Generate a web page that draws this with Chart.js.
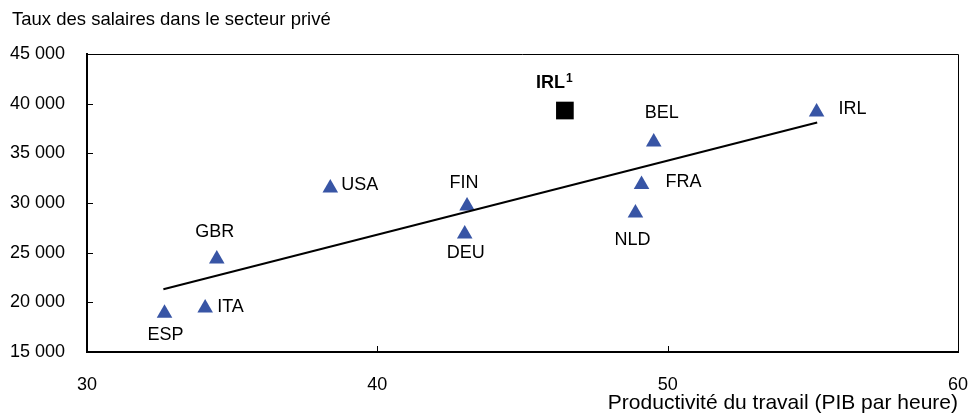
<!DOCTYPE html>
<html>
<head>
<meta charset="utf-8">
<script src="https://cdn.jsdelivr.net/npm/chart.js@4.4.1/dist/chart.umd.min.js"></script>
<style>
  body { margin: 0; background: #fff; }
  #wrap { width: 971px; height: 419px; }
</style>
</head>
<body>
<div id="wrap"><canvas id="chart"></canvas></div>
<script>
// valeurs
const pays = ['ESP', 'ITA', 'GBR', 'USA', 'FIN', 'DEU', 'BEL', 'FRA', 'NLD', 'IRL'];
const productivite = [32.67, 34.07, 34.47, 38.38, 43.09, 43.01, 49.52, 49.10, 48.89, 55.13];
const salaires = [18900, 19430, 24360, 31510, 29700, 26880, 36140, 31860, 28990, 39160];
const irlNote = 'IRL';
const irlNoteX = [46.46];
const irlNoteY = [39310];
const tendanceX = [32.63, 55.15];
const tendanceY = [21310, 38100];
const xTicks = [30, 40, 50, 60];
const yTicks = [15000, 20000, 25000, 30000, 35000, 40000, 45000];

const titreY = 'Taux des salaires dans le secteur privé';
const titreX = 'Productivité du travail (PIB par heure)';

// placement des étiquettes : [alignement, dx, dy]
const placement = {
  ESP: ['center', 1, 22], ITA: ['left', 12, -1], GBR: ['center', -2, -27],
  USA: ['left', 11, -3], FIN: ['center', -3, -23], DEU: ['center', 1, 19],
  BEL: ['center', 8, -29], FRA: ['left', 24, -2], NLD: ['center', -3, 27],
  IRL: ['left', 22, -3]
};

const police = '"Liberation Sans", Arial, Helvetica, sans-serif';
const bleu = '#3855a5';
Chart.defaults.font.family = police;
Chart.defaults.font.size = 18;
Chart.defaults.color = '#000';

function milliers(v) {
  return String(v).replace(/\B(?=(\d{3})+(?!\d))/g, ' ');
}

const decor = {
  id: 'decor',
  afterDatasetsDraw(chart) {
    const ctx = chart.ctx;
    const a = chart.chartArea;
    const x = chart.scales.x, y = chart.scales.y;
    ctx.save();
    // cadre haut et droite
    ctx.strokeStyle = '#000';
    ctx.lineWidth = 1;
    ctx.beginPath();
    ctx.moveTo(a.left, Math.round(a.top) + 0.5);
    ctx.lineTo(Math.round(a.right) + 0.5, Math.round(a.top) + 0.5);
    ctx.lineTo(Math.round(a.right) + 0.5, a.bottom);
    ctx.stroke();
    // graduations vers l'intérieur
    ctx.beginPath();
    yTicks.slice(1, -1).forEach(v => {
      const py = Math.round(y.getPixelForValue(v)) + 0.5;
      ctx.moveTo(a.left, py); ctx.lineTo(a.left + 6, py);
    });
    xTicks.slice(1, -1).forEach(v => {
      const px = Math.round(x.getPixelForValue(v)) + 0.5;
      ctx.moveTo(px, a.bottom); ctx.lineTo(px, a.bottom - 6);
    });
    ctx.stroke();

    // étiquettes des pays
    ctx.fillStyle = '#000';
    ctx.font = '18px ' + police;
    ctx.textBaseline = 'middle';
    const meta = chart.getDatasetMeta(0);
    meta.data.forEach((pt, i) => {
      const p = placement[pays[i]];
      ctx.textAlign = p[0];
      ctx.fillText(pays[i], pt.x + p[1], pt.y + p[2]);
    });

    // IRL¹
    const sq = chart.getDatasetMeta(1).data[0];
    ctx.font = 'bold 18px ' + police;
    ctx.textAlign = 'left';
    const w = ctx.measureText(irlNote).width;
    const tx = sq.x - 29, ty = sq.y - 27;
    ctx.fillText(irlNote, tx, ty);
    ctx.font = 'bold 12px ' + police;
    ctx.fillText('1', tx + w + 1, ty - 5);

    // titre de l'axe vertical
    ctx.font = '18.5px ' + police;
    ctx.textAlign = 'left';
    ctx.fillText(titreY, 12, 20);
    ctx.restore();
  }
};

new Chart(document.getElementById('chart'), {
  type: 'scatter',
  data: {
    datasets: [
      {
        data: pays.map((p, i) => ({ x: productivite[i], y: salaires[i] })),
        pointStyle: 'triangle',
        pointRadius: 9,
        backgroundColor: bleu,
        borderColor: bleu,
        borderWidth: 0,
        order: 2
      },
      {
        data: irlNoteX.map((v, i) => ({ x: v, y: irlNoteY[i] })),
        pointStyle: 'rect',
        pointRadius: 12.5,
        backgroundColor: '#000',
        borderColor: '#000',
        borderWidth: 0,
        order: 2
      },
      {
        data: tendanceX.map((v, i) => ({ x: v, y: tendanceY[i] })),
        showLine: true,
        pointRadius: 0,
        borderColor: '#000',
        borderWidth: 2,
        order: 1
      }
    ]
  },
  options: {
    responsive: true,
    maintainAspectRatio: false,
    animation: false,
    events: [],
    layout: { autoPadding: false, padding: { top: 54, right: 13, left: 0, bottom: 0 } },
    plugins: { legend: { display: false }, tooltip: { enabled: false } },
    scales: {
      x: {
        type: 'linear',
        min: 30, max: 60,
        afterBuildTicks: s => { s.ticks = xTicks.map(v => ({ value: v })); },
        afterFit: s => { s.height = 67; s.paddingLeft = 0; s.paddingRight = 0; },
        grid: { display: false, drawTicks: false },
        border: { display: true, color: '#000', width: 2 },
        ticks: { padding: 22, font: { size: 18 } },
        title: {
          display: true, text: titreX, align: 'end',
          font: { size: 21 }, padding: { top: 0, bottom: 3 }
        }
      },
      y: {
        type: 'linear',
        min: 15000, max: 45000,
        afterBuildTicks: s => { s.ticks = yTicks.map(v => ({ value: v })); },
        afterFit: s => { s.width = 87; s.paddingTop = 0; s.paddingBottom = 0; },
        grid: { display: false, drawTicks: false },
        border: { display: true, color: '#000', width: 2 },
        ticks: { padding: 22, font: { size: 18 }, callback: v => milliers(v) }
      }
    }
  },
  plugins: [decor]
});
</script>
</body>
</html>
